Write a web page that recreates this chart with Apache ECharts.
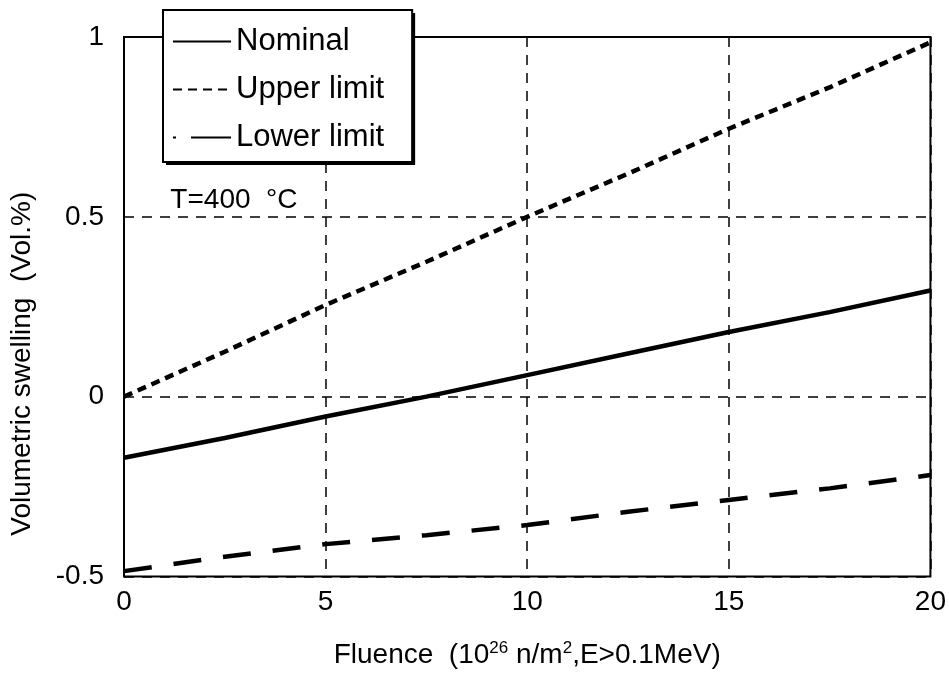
<!DOCTYPE html>
<html>
<head>
<meta charset="utf-8">
<script src="https://cdn.jsdelivr.net/npm/echarts@6/dist/echarts.min.js"></script>
<style>
  html, body { margin: 0; padding: 0; background: #fff; }
  #chart { width: 949px; height: 674px; }
</style>
</head>
<body>
<div id="chart"></div>
<script>
// Fluence (10^26 n/m^2) sampling points
const fluence = [0, 2.5, 5, 7.5, 10, 12.5, 15, 17.5, 20];
// Volumetric swelling (Vol.%)
const nominal = [-0.17, -0.115, -0.055, 0.0, 0.06, 0.12, 0.18, 0.235, 0.295];
const upperLimit = [0.0, 0.125, 0.255, 0.375, 0.5, 0.62, 0.745, 0.86, 0.985];
const lowerLimit = [-0.485, -0.445, -0.41, -0.385, -0.357, -0.32, -0.287, -0.255, -0.218];

const xTicks = [0, 5, 10, 15, 20];
const yTicks = [-0.5, 0, 0.5, 1];
const seriesNames = ['Nominal', 'Upper limit', 'Lower limit'];
const tempLabel = 'T=400  \u00b0C';
const tempLabelAt = [1.15, 0.5];

const FONT = "'Liberation Sans', Arial, sans-serif";

const pairs = ys => fluence.map((x, i) => [x, ys[i]]);

// legend entries: the lower-limit key is drawn dot-dash
const legendData = [
  { name: seriesNames[0] },
  { name: seriesNames[1] },
  { name: seriesNames[2], lineStyle: { type: [3, 15, 40, 3] } }
];

const legendBase = {
  orient: 'vertical',
  selectedMode: false,
  padding: [16, 28, 9, 9],
  itemWidth: 58,
  itemHeight: 30,
  itemGap: 17,
  textStyle: { fontFamily: FONT, fontSize: 31, lineHeight: 30, color: '#000' }
};

const chart = echarts.init(document.getElementById('chart'), null, { renderer: 'canvas' });

const option = {
  backgroundColor: '#fff',
  animation: false,
  grid: {
    left: 122, right: 16, top: 37, bottom: 95,
    show: true, borderColor: '#000', borderWidth: 2, backgroundColor: 'transparent'
  },
  legend: [
    // drop shadow block behind the key box
    Object.assign({}, legendBase, {
      left: 166, top: 13, z: 5,
      data: legendData.map(d => ({ name: d.name })),
      backgroundColor: '#000',
      itemStyle: { opacity: 0 },
      lineStyle: { opacity: 0 },
      textStyle: Object.assign({}, legendBase.textStyle, { color: 'rgba(0,0,0,0)' })
    }),
    Object.assign({}, legendBase, {
      left: 163, top: 10, z: 6,
      data: legendData,
      backgroundColor: '#fff',
      borderColor: '#000',
      borderWidth: 2,
      itemStyle: { opacity: 0 }
    })
  ],
  xAxis: {
    type: 'value',
    min: 0, max: 20, interval: 5,
    name: 'Fluence  (10{sup|26} n/m{sup|2},E>0.1MeV)',
    nameLocation: 'middle',
    nameGap: 63,
    nameTextStyle: {
      fontFamily: FONT, fontSize: 28, color: '#000',
      rich: { sup: { fontFamily: FONT, fontSize: 17, color: '#000', verticalAlign: 'top', padding: [0, 0, 14, 0] } }
    },
    axisLine: { show: false },
    axisTick: { show: false },
    axisLabel: {
      fontFamily: FONT, fontSize: 28, color: '#000', margin: 12,
      formatter: v => xTicks.includes(v) ? String(v) : ''
    },
    splitLine: { show: true, lineStyle: { color: '#000', width: 1.5, type: [10, 8] } }
  },
  yAxis: {
    type: 'value',
    min: -0.5, max: 1, interval: 0.5,
    name: 'Volumetric swelling  (Vol.%)',
    nameLocation: 'middle',
    nameGap: 88,
    nameTextStyle: { fontFamily: FONT, fontSize: 28, color: '#000', padding: [0, 114, 0, 0] },
    axisLine: { show: false },
    axisTick: { show: false },
    axisLabel: {
      fontFamily: FONT, fontSize: 28, color: '#000', margin: 20,
      formatter: v => yTicks.includes(v) ? String(v) : ''
    },
    splitLine: { show: true, lineStyle: { color: '#000', width: 1.5, type: [10, 8] } }
  },
  series: [
    {
      name: seriesNames[0], type: 'line', data: pairs(nominal),
      showSymbol: false, symbol: 'none',
      lineStyle: { color: '#000', width: 4.5, type: 'solid' },
      itemStyle: { color: '#000' }, z: 3
    },
    {
      name: seriesNames[1], type: 'line', data: pairs(upperLimit),
      showSymbol: false, symbol: 'none',
      lineStyle: { color: '#000', width: 4.5, type: [9, 6] },
      itemStyle: { color: '#000' }, z: 3
    },
    {
      name: seriesNames[2], type: 'line', data: pairs(lowerLimit),
      showSymbol: false, symbol: 'none',
      lineStyle: { color: '#000', width: 4.5, type: [28, 22] },
      itemStyle: { color: '#000' }, z: 3
    }
  ]
};

chart.setOption(option);

// temperature annotation anchored in data space
const p = chart.convertToPixel({ gridIndex: 0 }, tempLabelAt);
chart.setOption({
  graphic: [{
    type: 'text',
    x: p[0], y: p[1] - 3,
    style: {
      text: tempLabel,
      fontFamily: FONT, fontSize: 28, fill: '#000',
      textAlign: 'left', textVerticalAlign: 'bottom',
      backgroundColor: '#fff'
    },
    z: 10
  }]
});
</script>
</body>
</html>
